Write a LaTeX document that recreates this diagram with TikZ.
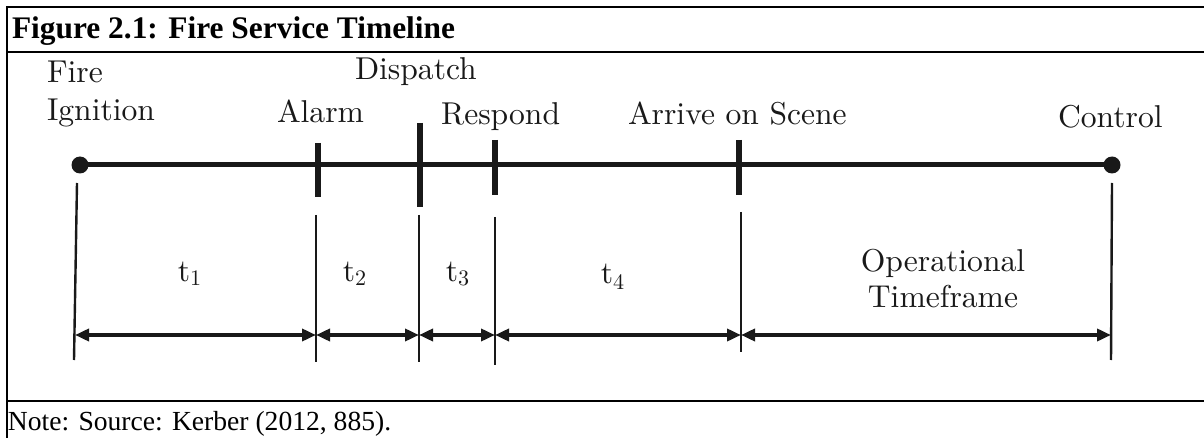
\documentclass[tikz,border=0pt]{standalone}
\usepackage{fontspec}
\newfontfamily\wordfont{Liberation Serif}
\newfontfamily\labelfont{lmroman10-regular.otf}
\usetikzlibrary{arrows.meta}
\definecolor{TimelineInk}{gray}{0.1}
\tikzset{
    timeline/diagram/.style={
        x=0.5pt, y=-0.5pt,
        line cap=butt,
        every node/.style={inner sep=0pt, outer sep=0pt}
    },
    timeline/frame/.style={draw=black, line width=1.2pt},
    timeline/axis/.style={draw=TimelineInk, line width=2.5pt},
    timeline/tick/.style={draw=TimelineInk, line width=2.7pt},
    timeline/guide/.style={draw=TimelineInk, line width=1.2pt},
    timeline/span/.style={
        draw=TimelineInk, line width=2.2pt,
        {Triangle[length=7pt, width=6pt]}-{Triangle[length=7pt, width=6pt]}
    },
    timeline/point/.style={circle, fill=TimelineInk, draw=none, minimum size=8.5pt},
    timeline/event/.style={font=\labelfont\fontsize{15.8}{19}\selectfont, text=TimelineInk, anchor=base west},
    timeline/period/.style={font=\labelfont\fontsize{15.8}{19}\selectfont, text=TimelineInk, anchor=base}
}

\begin{document}
\begin{tikzpicture}[timeline/diagram]
    \useasboundingbox (0,0) rectangle (1204,438);
    \draw[timeline/frame] (1204,7) -- (7,7) -- (7,438);
    \draw[timeline/frame] (7,52) -- (1204,52);
    \draw[timeline/frame] (7,401) -- (1204,401);
    \node[anchor=base west, font=\wordfont\fontsize{15.7}{18}\selectfont\bfseries] (Title)
        at (12,39) {Figure 2.1: Fire Service Timeline};
    \node[anchor=base west, font=\wordfont\fontsize{13.8}{16}\selectfont] (Note)
        at (8,430) {Note: Source: Kerber (2012, 885).};
    \node[timeline/point] (Ignition) at (80,165) {};
    \node[timeline/point] (Control) at (1112,165) {};
    \draw[timeline/axis] (Ignition.center) -- (Control.center);
    \draw[timeline/tick] (318,143) -- (318,197);
    \draw[timeline/tick] (420,123) -- (420,207);
    \draw[timeline/tick] (495,140) -- (495,195);
    \draw[timeline/tick] (739,140) -- (739,195);
    \node[timeline/event] (FireText) at (47,83) {Fire};
    \node[timeline/event] (IgnitionText) at (47,121) {Ignition};
    \node[timeline/event] (AlarmText) at (277,123) {Alarm};
    \node[timeline/event] (DispatchText) at (355,80) {Dispatch};
    \node[timeline/event] (RespondText) at (441,125) {Respond};
    \node[timeline/event] (ArriveText) at (628,125) {Arrive on Scene};
    \node[timeline/event] (ControlText) at (1058,128) {Control};
    \draw[timeline/guide] (77,183) -- (74,360);
    \draw[timeline/guide] (316,215) -- (316,362);
    \draw[timeline/guide] (419,215) -- (419,362);
    \draw[timeline/guide] (495,217) -- (495,365);
    \draw[timeline/guide] (741,212) -- (741,352);
    \draw[timeline/guide] (1112,183) -- (1111,360);
    \coordinate (SpanA) at (75,335);
    \coordinate (SpanB) at (316,335);
    \coordinate (SpanC) at (419,335);
    \coordinate (SpanD) at (495,335);
    \coordinate (SpanE) at (741,335);
    \coordinate (SpanF) at (1111,335);
    \draw[timeline/span] (SpanA) -- (SpanB);
    \draw[timeline/span] (SpanB) -- (SpanC);
    \draw[timeline/span] (SpanC) -- (SpanD);
    \draw[timeline/span] (SpanD) -- (SpanE);
    \draw[timeline/span] (SpanE) -- (SpanF);
    \node[timeline/period] (TimeOne) at (190,281) {t\textsubscript{1}};
    \node[timeline/period] (TimeTwo) at (355,281) {t\textsubscript{2}};
    \node[timeline/period] (TimeThree) at (458,281) {t\textsubscript{3}};
    \node[timeline/period] (TimeFour) at (613,284) {t\textsubscript{4}};
    \node[timeline/period] (OperationalText) at (943,271) {Operational};
    \node[timeline/period] (TimeframeText) at (943,307) {Timeframe};
\end{tikzpicture}
\end{document}
